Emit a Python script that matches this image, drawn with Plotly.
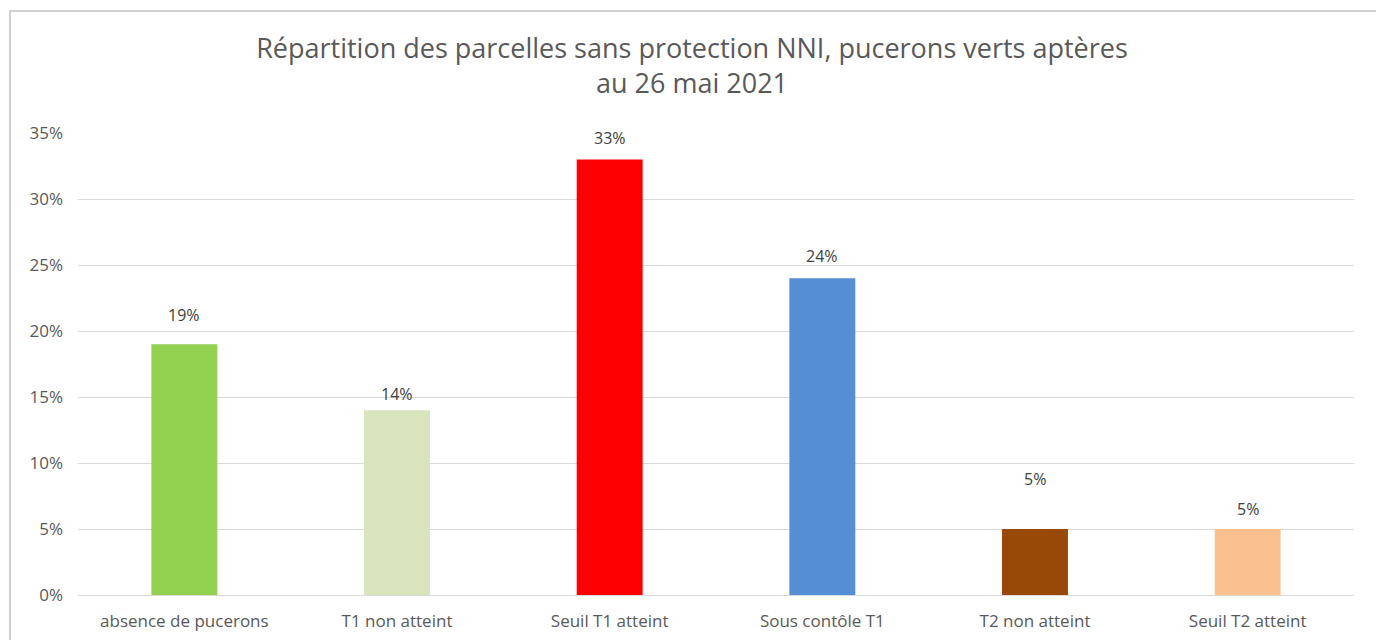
import plotly.graph_objects as go

categories = ["absence de pucerons", "T1 non atteint", "Seuil T1 atteint",
              "Sous contôle T1", "T2 non atteint", "Seuil T2 atteint"]
values = [0.19, 0.14, 0.33, 0.24, 0.05, 0.05]
colors = ["#92d050", "#d8e4bc", "#ff0000", "#558ed5", "#984807", "#fac090"]
label_shift = [28, 15, 20, 21, 49, 19]  # pixel offset of each data label above its bar

OFF = 8  # page body margin
W, H = 1384 - OFF, 640 - OFF
L, R, T, B = 78 - OFF, 30, 133 - OFF, 45
pw = W - L - R
ph = H - T - B

def px_x(p):
    return (p - OFF - L) / pw

def px_y(p):
    return (H - B - (p - OFF)) / ph

fig = go.Figure()
fig.add_trace(go.Bar(
    x=categories, y=values, marker_color=colors, marker_line_width=0,
    showlegend=False, hoverinfo="skip",
))

for c, v, s in zip(categories, values, label_shift):
    fig.add_annotation(
        x=c, y=v, text=f"{round(v*100)}%", showarrow=False,
        yanchor="bottom", yshift=s - 12, xref="x", yref="y",
        font=dict(size=16, color="#404040"),
    )

# chart border
fig.add_shape(
    type="rect", xref="paper", yref="paper",
    x0=px_x(10), x1=px_x(1379), y0=px_y(680), y1=px_y(11),
    line=dict(color="#d0d0d0", width=2), fillcolor="rgba(0,0,0,0)", layer="above",
)

fig.update_layout(
    width=W, height=H,
    margin=dict(l=L, r=R, t=T, b=B, autoexpand=False),
    paper_bgcolor="white", plot_bgcolor="white",
    font=dict(family="'Open Sans', Lato, sans-serif", color="#595959", size=16),
    title=dict(
        text="Répartition des parcelles sans protection NNI, pucerons verts aptères<br>au 26 mai 2021",
        x=(692 - OFF) / W, xref="container", xanchor="center",
        y=1 - 50 / H, yref="container", yanchor="top",
        font=dict(size=27, color="#595959"),
    ),
    bargap=0.69,
    xaxis=dict(showgrid=False, showline=False, ticks="", tickfont=dict(size=17, color="#595959"),
               ticklabelstandoff=14, automargin=False),
    yaxis=dict(range=[0, 0.35], dtick=0.05, tickformat=".0%", showgrid=True,
               gridcolor="#d9d9d9", gridwidth=1, zeroline=True, zerolinecolor="#d9d9d9",
               zerolinewidth=1, showline=False, ticks="", tickfont=dict(size=17, color="#595959"),
               ticklabelstandoff=14, automargin=False),
)

fig.write_html("out.html")
